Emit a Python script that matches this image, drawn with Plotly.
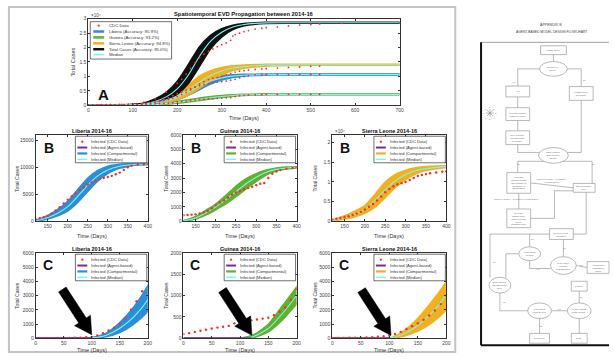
import math
import plotly.graph_objects as go

W, H = 613, 359

# ------------------------------------------------------------------ data
model_days = [0, 50, 100, 125, 150, 175, 200, 225, 250, 275, 300, 325, 350, 375, 400, 450, 500, 600, 700]

total_med = [0, 5, 150, 450, 1300, 2900, 5700, 10500, 17000, 22200, 25300, 27100, 28000, 28400, 28550, 28600, 28600, 28600, 28600]
total_hi = [0, 10, 250, 750, 2100, 4300, 8200, 14000, 20200, 24200, 26500, 27700, 28300, 28550, 28650, 28700, 28700, 28700, 28700]
total_lo = [0, 2, 80, 250, 800, 1900, 3900, 7700, 13600, 19700, 23800, 26300, 27600, 28200, 28450, 28500, 28500, 28500, 28500]

lib_med = [0, 0, 30, 200, 700, 1500, 2700, 4600, 6700, 8400, 9500, 10100, 10400, 10550, 10600, 10650, 10650, 10650, 10650]
lib_hi = [0, 0, 60, 350, 1100, 2200, 3700, 5900, 8000, 9400, 10200, 10500, 10650, 10700, 10720, 10720, 10720, 10720, 10720]
lib_lo = [0, 0, 10, 100, 400, 1000, 1900, 3500, 5500, 7400, 8800, 9700, 10150, 10400, 10500, 10580, 10580, 10580, 10580]

gui_med = [0, 0, 0, 50, 230, 580, 1000, 1500, 2050, 2600, 3050, 3400, 3600, 3700, 3750, 3780, 3790, 3790, 3790]
gui_hi = [0, 0, 0, 90, 330, 760, 1200, 1800, 2450, 2950, 3300, 3550, 3700, 3760, 3790, 3810, 3810, 3810, 3810]
gui_lo = [0, 0, 0, 20, 150, 430, 800, 1200, 1700, 2250, 2750, 3200, 3480, 3620, 3700, 3750, 3760, 3760, 3760]

sl_med = [0, 0, 0, 300, 900, 1800, 3100, 5300, 8000, 10300, 11900, 12900, 13400, 13700, 13900, 14000, 14050, 14050, 14050]
sl_hi = [0, 0, 10, 500, 1400, 2600, 4000, 6900, 10000, 11900, 13000, 13600, 13900, 14050, 14100, 14150, 14150, 14150, 14150]
sl_lo = [0, 0, 0, 150, 500, 1100, 2000, 3600, 6000, 8600, 10600, 12100, 12900, 13350, 13650, 13850, 13950, 13950, 13950]

cdc_days = [0, 10, 20, 30, 40, 50, 60, 70, 80, 90, 100, 110, 120, 130, 140, 150, 160, 170, 180, 190, 200,
            210, 220, 230, 240, 250, 260, 270, 280, 290, 300, 310, 320, 330, 340, 350, 360, 375, 390, 400,
            425, 450, 475, 500, 520]
cdc_lib = [0, 5, 10, 15, 20, 25, 30, 40, 50, 70, 100, 200, 350, 550, 750, 1000, 1400, 2000, 2600, 3300, 4000,
           4600, 5200, 5800, 6300, 6800, 7200, 7500, 7800, 8000, 8200, 8400, 8700, 9000, 9500, 10000, 10300, 10500, 10550, 10600,
           10630, 10650, 10670, 10680, 10690]
cdc_gui = [100, 120, 150, 175, 200, 230, 250, 270, 290, 350, 340, 310, 420, 440, 460, 480, 540, 620, 720, 900, 1150,
           1300, 1450, 1650, 1850, 2000, 2100, 2200, 2300, 2400, 2500, 2600, 2650, 3000, 3300, 3450, 3550, 3650, 3700, 3750,
           3770, 3780, 3790, 3800, 3810]
cdc_sl = [20, 25, 30, 35, 40, 45, 60, 80, 110, 150, 200, 300, 450, 650, 850, 1050, 1300, 1600, 1950, 2400, 3000,
          3700, 4400, 5300, 6300, 7400, 8200, 8900, 9400, 9700, 10000, 10500, 11000, 11500, 11800, 12000, 12200, 12400, 12600, 12700,
          12900, 13100, 13300, 13500, 13600]

cdc_total_days = [0, 25, 50, 75, 100, 125, 150, 175, 200, 210, 220, 230, 240, 250, 260, 270, 280, 290, 300, 310,
                  320, 325, 330, 340, 350, 360, 375, 390, 400, 425, 450, 475, 500, 520, 570]
cdc_total = [100, 150, 200, 300, 500, 1100, 2300, 4600, 7600, 9000, 10800, 12800, 14700, 16500, 17700, 18700, 19500, 20300, 21000, 21600,
             22500, 24000, 24500, 25000, 25500, 25900, 26400, 26700, 26900, 27200, 27500, 27800, 28000, 28200, 28400]

agent_lib_days = [0, 25, 50, 75, 100]
agent_lib = [0, 0, 0, 0, 0]
agent_gui_days = [0, 30, 60, 90, 120]
agent_gui = [0, 0, 0, 0, 0]
agent_sl_days = [0, 25, 50, 75, 100]
agent_sl = [0, 0, 0, 0, 0]

# arrow tips (day, cases) for panels C: Liberia, Guinea, Sierra Leone
arrow_tips = [(100, 250), (121, 70), (103, 200)]

legend_A = ["CDC Data", "Liberia (Accuracy: 95.9%)", "Guinea (Accuracy: 93.2%)",
            "Sierra Leone (Accuracy: 94.8%)", "Total Cases (Accuracy: 95.0%)", "Median"]
legend_BC = ["Infected (CDC Data)", "Infected (Agent-based)", "Infected (Compartmental)", "Infected (Median)"]

# ------------------------------------------------------------------ style
FONT = "Liberation Sans, Arial, sans-serif"
C_LIB = "#2b8fd8"
C_GUI = "#62b12e"
C_SL = "#f2b11c"
C_TOT = "#111111"
C_MED = "#79f5f5"
C_CDC = "#ff2a2a"
C_AG = "#7b2d8e"


def X(p):
    return p / W


def Y(p):
    return 1 - p / H


fig = go.Figure()
shapes = []
annos = []

panels = [
    (1, (88, 402), (16, 104), [0, 700], [0, 30000], list(range(0, 701, 100)),
     list(range(0, 30001, 5000)), ["0", "0.5", "1", "1.5", "2", "2.5", "3"]),
    (2, (35, 148), (134, 222), [120, 400], [0, 16000], list(range(150, 401, 50)),
     [0, 5000, 10000, 15000], None),
    (3, (184, 298), (134, 222), [120, 400], [0, 6000], list(range(150, 401, 50)),
     list(range(0, 6001, 1000)), None),
    (4, (334, 449), (134, 222), [120, 400], [0, 22000], list(range(150, 401, 50)),
     list(range(0, 20001, 5000)), ["0", "0.5", "1", "1.5", "2"]),
    (5, (35, 148), (254, 341), [0, 200], [0, 6000], list(range(0, 201, 50)),
     list(range(0, 6001, 1000)), None),
    (6, (184, 298), (254, 341), [0, 200], [0, 2000], list(range(0, 201, 50)),
     list(range(0, 2001, 500)), None),
    (7, (334, 449), (254, 341), [0, 200], [0, 6000], list(range(0, 201, 50)),
     list(range(0, 6001, 1000)), None),
]

layout_axes = {}
for (i, xd, yd, xr, yr, xt, yt, ytt) in panels:
    sfx = "" if i == 1 else str(i)
    common = dict(showgrid=False, zeroline=False, showline=True, linecolor="#333", linewidth=0.8,
                  mirror="ticks", ticks="inside", ticklen=2, tickwidth=0.6, tickcolor="#333",
                  tickfont=dict(size=5, color="#444", family=FONT), fixedrange=True)
    layout_axes["xaxis" + sfx] = dict(domain=[X(xd[0]), X(xd[1])], range=xr, anchor="y" + sfx,
                                      tickvals=xt, ticktext=[str(v) for v in xt], **common)
    ya = dict(domain=[Y(yd[1]), Y(yd[0])], range=yr, anchor="x" + sfx, tickvals=yt, **common)
    ya["ticktext"] = ytt if ytt else [str(v) for v in yt]
    layout_axes["yaxis" + sfx] = ya


def ax(i):
    return ("x", "y") if i == 1 else ("x%d" % i, "y%d" % i)


def add_band(i, lo, hi, color, edge):
    xa, ya = ax(i)
    ln = dict(color=color, width=edge, shape="spline", smoothing=0.6)
    fig.add_trace(go.Scatter(x=model_days, y=lo, mode="lines", line=ln, xaxis=xa, yaxis=ya,
                             showlegend=False, hoverinfo="skip"))
    fig.add_trace(go.Scatter(x=model_days, y=hi, mode="lines", line=ln, fill="tonexty", fillcolor=color,
                             xaxis=xa, yaxis=ya, showlegend=False, hoverinfo="skip"))


def add_med(i, med):
    xa, ya = ax(i)
    fig.add_trace(go.Scatter(x=model_days, y=med, mode="lines",
                             line=dict(color=C_MED, width=1.1, shape="spline", smoothing=0.6),
                             xaxis=xa, yaxis=ya, showlegend=False, hoverinfo="skip"))


def add_cdc(i, xs, ys, size=2.2):
    xa, ya = ax(i)
    fig.add_trace(go.Scatter(x=xs, y=ys, mode="markers", marker=dict(color=C_CDC, size=size, line=dict(width=0)),
                             xaxis=xa, yaxis=ya, showlegend=False, hoverinfo="skip"))


def add_agent(i, xs, ys):
    xa, ya = ax(i)
    fig.add_trace(go.Scatter(x=xs, y=ys, mode="lines", line=dict(color=C_AG, width=2),
                             xaxis=xa, yaxis=ya, showlegend=False, hoverinfo="skip"))


# Panel A
add_band(1, gui_lo, gui_hi, C_GUI, 2)
add_band(1, lib_lo, lib_hi, C_LIB, 2)
add_band(1, sl_lo, sl_hi, C_SL, 2)
add_band(1, total_lo, total_hi, C_TOT, 2)
for m in (gui_med, lib_med, sl_med, total_med):
    add_med(1, m)
add_cdc(1, cdc_days, cdc_lib, 1.8)
add_cdc(1, cdc_days, cdc_gui, 1.8)
add_cdc(1, cdc_days, cdc_sl, 1.8)
add_cdc(1, cdc_total_days, cdc_total, 1.8)

# Panels B and C
countries = [(lib_lo, lib_hi, lib_med, C_LIB, cdc_lib, agent_lib_days, agent_lib),
             (gui_lo, gui_hi, gui_med, C_GUI, cdc_gui, agent_gui_days, agent_gui),
             (sl_lo, sl_hi, sl_med, C_SL, cdc_sl, agent_sl_days, agent_sl)]
for k, (lo, hi, med, col, cdc, adays, ag) in enumerate(countries):
    for i in (2 + k, 5 + k):
        add_band(i, lo, hi, col, 1.5)
        add_med(i, med)
        if i >= 5:
            add_agent(i, adays, ag)
        add_cdc(i, cdc_days, cdc, 2.4)


def text(xp, yp, s, size=5, color="#222", xanchor="center", yanchor="middle", angle=0):
    annos.append(dict(x=X(xp), y=Y(yp), xref="paper", yref="paper", text=s, showarrow=False,
                      xanchor=xanchor, yanchor=yanchor, textangle=angle,
                      font=dict(size=size, color=color, family=FONT)))


def line(x0, y0, x1, y1, color="#333", width=0.8, layer="above"):
    shapes.append(dict(type="line", xref="paper", yref="paper", x0=X(x0), y0=Y(y0), x1=X(x1), y1=Y(y1),
                       line=dict(color=color, width=width), layer=layer))


def rect(x0, y0, x1, y1, color="#333", width=0.6, fill="white", layer="above"):
    shapes.append(dict(type="rect", xref="paper", yref="paper", x0=X(x0), y0=Y(y0), x1=X(x1), y1=Y(y1),
                       line=dict(color=color, width=width), fillcolor=fill, layer=layer))


def ellipse(x0, y0, x1, y1, color="#333", width=0.6, fill="white"):
    shapes.append(dict(type="circle", xref="paper", yref="paper", x0=X(x0), y0=Y(y0), x1=X(x1), y1=Y(y1),
                       line=dict(color=color, width=width), fillcolor=fill, layer="above"))


# outer frame of the left figure
rect(8, 4, 458, 355, color="#c4c4c4", width=2, fill="rgba(0,0,0,0)", layer="below")

# titles and axis labels
text(245, 11, "<b>Spatiotemporal EVD Propagation between 2014-16</b>", 5.8, "#111")
text(245, 117, "Time (Days)", 5.5, "#333")
text(73, 60, "Total Cases", 5.5, "#333", angle=-90)
text(89, 13, "×10⁴", 4.5, "#444", xanchor="left")
text(103, 93, "<b>A</b>", 15, "#111")

names = ["Liberia 2014-16", "Guinea 2014-16", "Sierra Leone 2014-16"]
xdoms = [(35, 148), (184, 298), (334, 449)]
ylab_x = [16, 166, 317]
for k in range(3):
    cx = (xdoms[k][0] + xdoms[k][1]) / 2
    text(cx, 130, "<b>%s</b>" % names[k], 5.5, "#111")
    text(cx, 250, "<b>%s</b>" % names[k], 5.5, "#111")
    text(cx, 237, "Time (Days)", 5.5, "#333")
    text(cx, 353, "Time (Days)", 5.5, "#333")
    text(ylab_x[k], 178, "Total Cases", 5, "#333", angle=-90)
    text(ylab_x[k], 297, "Total Cases", 5, "#333", angle=-90)
    text(xdoms[k][0] + 13, 147, "<b>B</b>", 14, "#111")
    text(xdoms[k][0] + 12, 266, "<b>C</b>", 14, "#111")
text(335, 131, "×10⁴", 4.5, "#444", xanchor="left")

# thick black arrows in panels C (polygon in pixel offsets from the tip)
L_ARROW, HW_SHAFT, HW_HEAD, L_HEAD = 54, 4.5, 9.5, 17
ux, uy = 26 / math.hypot(26, 40), -40 / math.hypot(26, 40)   # direction tail->tip (y up)
nx, ny = -uy, ux
tx, ty = -L_ARROW * ux, -L_ARROW * uy
bx, by = -L_HEAD * ux, -L_HEAD * uy
pts = [(tx + HW_SHAFT * nx, ty + HW_SHAFT * ny), (bx + HW_SHAFT * nx, by + HW_SHAFT * ny),
       (bx + HW_HEAD * nx, by + HW_HEAD * ny), (0, 0),
       (bx - HW_HEAD * nx, by - HW_HEAD * ny), (bx - HW_SHAFT * nx, by - HW_SHAFT * ny),
       (tx - HW_SHAFT * nx, ty - HW_SHAFT * ny)]
path = "M " + " L ".join("%.2f,%.2f" % p for p in pts) + " Z"
for k, (xv, yv) in enumerate(arrow_tips):
    xa, ya = ax(5 + k)
    shapes.append(dict(type="path", xref=xa, yref=ya, xsizemode="pixel", ysizemode="pixel",
                       xanchor=xv, yanchor=yv, path=path, fillcolor="#000",
                       line=dict(color="#000", width=0.5), layer="above"))


# legends
def legend(x0, y0, x1, y1, entries, rows, sx0, sx1, tx_, fs):
    rect(x0, y0, x1, y1, color="#333", width=0.7)
    for (kind, col, lw, lab), ry in zip(entries, rows):
        if kind == "dot":
            cx = (sx0 + sx1) / 2
            ellipse(cx - 1, ry - 1, cx + 1, ry + 1, color=col, width=0.3, fill=col)
        else:
            line(sx0, ry, sx1, ry, color=col, width=lw)
        text(tx_, ry, lab, fs, "#333", xanchor="left")


entA = [("dot", C_CDC, 0, legend_A[0]), ("line", C_LIB, 2.5, legend_A[1]), ("line", C_GUI, 2.5, legend_A[2]),
        ("line", C_SL, 2.5, legend_A[3]), ("line", C_TOT, 2.5, legend_A[4]), ("line", C_MED, 1.5, legend_A[5])]
legend(90, 19, 172, 57, entA, [23, 29, 35, 41, 47, 52.5], 93, 104, 107, 4.3)

cols = [C_LIB, C_GUI, C_SL]
for k in range(3):
    ent = [("dot", C_CDC, 0, legend_BC[0]), ("line", C_AG, 2, legend_BC[1]),
           ("line", cols[k], 2.2, legend_BC[2]), ("line", C_MED, 1.5, legend_BC[3])]
    r = xdoms[k][1]
    for top in (134, 254):
        legend(r - 73, top + 1.5, r - 1, top + 28.5, ent, [top + 7, top + 13, top + 19, top + 25],
               r - 71, r - 61, r - 59, 4.1)

# ------------------------------------------------------------------ flowchart (right)
text(555, 22, "APPENDIX B", 3.6, "#444")
text(555, 29, "AGENT-BASED MODEL DESIGN FLOWCHART", 3.3, "#444")
line(484, 40, 613, 40, color="#888", width=0.8)
line(484, 40, 484, 348, color="#111", width=2)
line(484, 348, 613, 348, color="#111", width=2)

FC = "#8a8a8a"
nodes = [
    (557, 48, 26, 9, "r", "Healthy agent"),
    (557, 67, 28, 15, "e", "Declined to<br>travel?"),
    (521, 90, 24, 11, "r", "Yes"),
    (585, 92, 24, 14, "r", "Location does<br>not update"),
    (521, 113, 24, 13, "r", "Generate number<br>between 1 and 8"),
    (521, 137, 24, 14, "r", "Move direction<br>corresponding<br>to number"),
    (557, 155, 30, 16, "e", "Same location<br>as an infected<br>agent?"),
    (522, 183, 24, 21, "r", "Generate<br>random variable<br>and compare to<br>probability of<br>transmission"),
    (588, 188, 22, 9, "r", "Task incubation<br>reset"),
    (522, 219, 24, 19, "r", "Generate<br>random value<br>between 2 and<br>21 for<br>incubation days"),
    (565, 235, 24, 11, "r", "Moves on to the<br>next agent"),
    (533, 255, 22, 14, "e", "Is the agent<br>infected"),
    (567, 267, 26, 18, "e", "Is the agent<br>seeking<br>hospitalization"),
    (602, 269, 22, 12, "r", "Add agent to<br>hospitalized<br>group"),
    (503, 287, 22, 16, "e", "Is the agent's<br>incubation time<br>at 1?"),
    (583, 288, 16, 10, "r", "Funeral"),
    (543, 313, 24, 16, "e", "Is the agent<br>going to die?"),
    (583, 313, 24, 16, "e", "Are they having<br>a safe burial?"),
    (543, 341, 20, 10, "r", "Recovered"),
    (583, 341, 16, 10, "r", "Dead"),
]

connectors = [
    [(557, 52.5), (557, 59.5)],
    [(543, 67), (521, 67), (521, 84.5)],
    [(571, 67), (585, 67), (585, 85)],
    [(521, 95.5), (521, 106.5)],
    [(521, 119.5), (521, 130)],
    [(521, 144), (521, 152), (543, 152)],
    [(585, 99), (585, 152), (571, 152)],
    [(548, 161), (521, 161), (521, 172.5)],
    [(566, 161), (596, 161), (596, 183.5)],
    [(534, 183), (577, 188)],
    [(522, 193.5), (522, 209.5)],
    [(534, 219), (558, 219), (558, 191), (577, 191)],
    [(590, 192.5), (590, 235), (577, 235)],
    [(553, 235), (493, 235), (493, 279)],
    [(533, 248), (533, 235)],
    [(567, 258), (567, 240.5)],
    [(533, 262), (533, 270), (554, 270)],
    [(580, 267), (591, 269)],
    [(509, 280), (509, 255), (522, 255)],
    [(503, 295), (503, 313), (531, 313)],
    [(555, 313), (571, 313)],
    [(583, 305), (583, 293)],
    [(583, 321), (583, 336)],
    [(543, 321), (543, 336)],
]
for seg in connectors:
    for (a, b) in zip(seg[:-1], seg[1:]):
        line(a[0], a[1], b[0], b[1], color=FC, width=0.6)

for (cx, cy, w, h, kind, lab) in nodes:
    if kind == "r":
        rect(cx - w / 2, cy - h / 2, cx + w / 2, cy + h / 2, color=FC, width=0.6)
    else:
        ellipse(cx - w / 2, cy - h / 2, cx + w / 2, cy + h / 2, color=FC, width=0.6)
    text(cx, cy, lab, 2.2, "#666")

edge_labels = [(517, 80, "Yes"), (589, 78, "No"), (521, 164, "Yes"), (598, 164, "No"),
               (556, 181, "Random variable > Probability<br>of transmission"),
               (520, 199, "Random variable < probability of transmission"),
               (536, 240, "No"), (569, 249, "No"), (541, 271, "Yes"), (585, 266, "Yes"),
               (498, 263, "No"), (507, 304, "Yes"), (563, 311, "Yes"), (586, 299, "No"), (545, 328, "No")]
for (xp, yp, s) in edge_labels:
    text(xp, yp, s, 2.2, "#777")

# compass icon
cx0, cy0 = 493, 112
for (dx, dy) in [(0, -4), (3, -3), (4, 0), (3, 3), (0, 4), (-3, 3), (-4, 0), (-3, -3)]:
    line(cx0, cy0, cx0 + dx, cy0 + dy, color="#777", width=0.5)
for n, (dx, dy) in enumerate([(0, -6), (4.5, -4.5), (6, 0), (4.5, 4.5), (0, 6), (-4.5, 4.5), (-6, 0), (-4.5, -4.5)]):
    text(cx0 + dx, cy0 + dy, str(n + 1), 2.2, "#666")

fig.update_layout(
    width=W, height=H, margin=dict(l=0, r=0, t=0, b=0),
    paper_bgcolor="white", plot_bgcolor="white",
    showlegend=False, font=dict(family=FONT),
    shapes=shapes, annotations=annos, **layout_axes,
)

fig.write_html("out.html", config={"displayModeBar": False},
               post_script="document.body.style.margin='0';document.body.style.padding='0';"
                           "document.body.style.overflow='hidden';")
